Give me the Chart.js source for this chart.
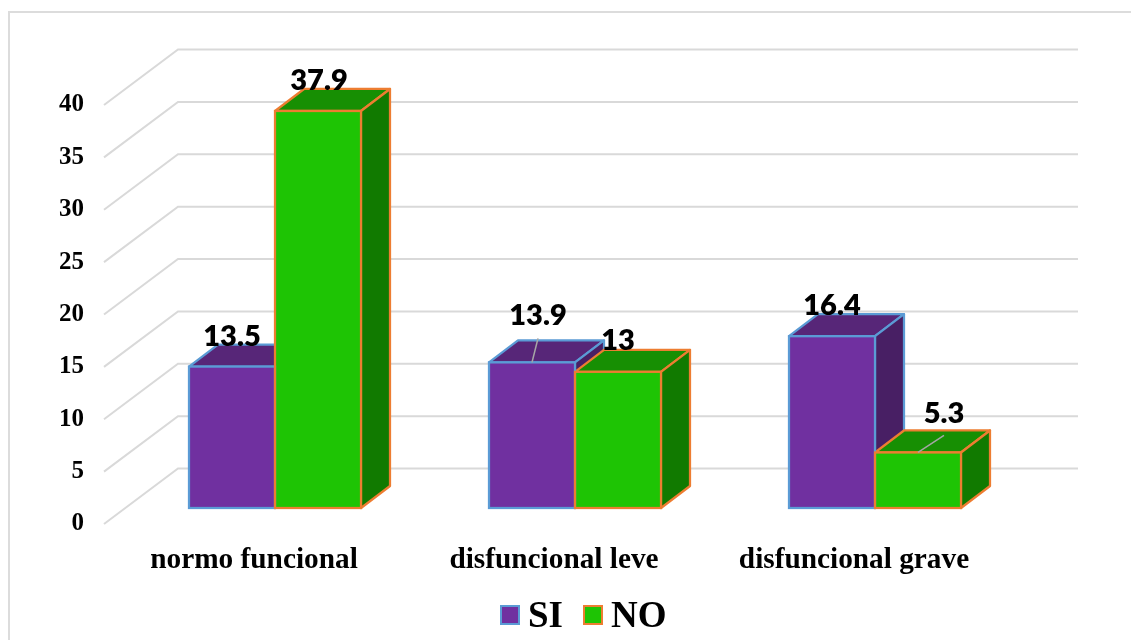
<!DOCTYPE html>
<html>
<head>
<meta charset="utf-8">
<title>normo funcional / disfuncional</title>
<script src="https://cdn.jsdelivr.net/npm/chart.js@4/dist/chart.umd.min.js"></script>
<style>
  html, body { margin: 0; padding: 0; background: #fff; overflow: hidden; }
  #wrap { position: relative; width: 1131px; height: 640px; }
  #frame { position: absolute; left: 8px; top: 11px; right: -4px; bottom: -4px; border: 2px solid #dcdcdc; }
  #healthChart { position: absolute; left: 0; top: 0; }
  #legend { position: absolute; left: 500px; top: 594px; display: flex; align-items: center;
            font: bold 37px "Liberation Serif", serif; color: #000; line-height: 42px; }
  #legend .swatch { width: 16px; height: 16px; border: 2px solid; margin-right: 8px; }
  #legend .item { display: flex; align-items: center; margin-right: 20px; }
</style>
</head>
<body>
<div id="wrap">
  <div id="frame"></div>
  <canvas id="healthChart" width="1131" height="640"></canvas>
  <div id="legend"></div>
</div>
<script>
const categories = ['normo funcional', 'disfuncional leve', 'disfuncional grave'];
const siValues = [13.5, 13.9, 16.4];
const noValues = [37.9, 13, 5.3];

// 3D look: how far the bar depth and the back wall sit from the bar plane
const barDepth = { x: 29, y: -22 };
const wallShift = { x: 53, y: -39.5 };
const floorShift = { x: -21, y: 16 };
const wallRight = 1078;

// face colours per series
const faces = [
    { top: '#572678', side: '#481F64' },
    { top: '#178F03', side: '#117A00' }
];

// hand placed value labels, some of them pulled away with a leader line
const labelPlacement = [
    [{ dx: 0, dy: -30 }, { dx: 6, dy: -47, leader: [6, -24] }, { dx: 0, dy: -31 }],
    [{ dx: 1, dy: -30 }, { dx: 0, dy: -31 }, { dx: 26, dy: -39, leader: [26, -17] }]
];

const wallPlugin = {
    id: 'wall',
    beforeDatasetsDraw(chart) {
        const { ctx, scales } = chart;
        ctx.save();
        ctx.strokeStyle = '#d9d9d9';
        ctx.lineWidth = 2;
        scales.y.ticks.forEach(tick => {
            const y = scales.y.getPixelForValue(tick.value);
            const backX = scales.x.left + wallShift.x;
            const backY = y + wallShift.y;
            ctx.beginPath();
            ctx.moveTo(backX - wallShift.x + floorShift.x, y + floorShift.y);
            ctx.lineTo(backX, backY);
            ctx.lineTo(wallRight, backY);
            ctx.stroke();
        });
        ctx.restore();
    }
};

function drawFace(ctx, points, fill, stroke) {
    ctx.beginPath();
    points.forEach((p, i) => i ? ctx.lineTo(p[0], p[1]) : ctx.moveTo(p[0], p[1]));
    ctx.closePath();
    ctx.fillStyle = fill;
    ctx.fill();
    ctx.strokeStyle = stroke;
    ctx.lineWidth = 2.25;
    ctx.stroke();
}

// top and side faces go behind the front faces drawn by the bar elements
const depthPlugin = {
    id: 'depth',
    beforeDatasetsDraw(chart) {
        const { ctx } = chart;
        ctx.save();
        ctx.lineJoin = 'round';
        chart.data.datasets.forEach((dataset, d) => {
            chart.getDatasetMeta(d).data.forEach(bar => {
                const l = bar.x - bar.width / 2;
                const r = bar.x + bar.width / 2;
                const t = bar.y;
                const b = bar.base;
                drawFace(ctx, [[l, t], [l + barDepth.x, t + barDepth.y], [r + barDepth.x, t + barDepth.y], [r, t]],
                    faces[d].top, dataset.borderColor);
                drawFace(ctx, [[r, t], [r + barDepth.x, t + barDepth.y], [r + barDepth.x, b + barDepth.y], [r, b]],
                    faces[d].side, dataset.borderColor);
            });
        });
        ctx.restore();
    },
    afterDatasetsDraw(chart) {
        const { ctx } = chart;
        ctx.save();
        ctx.lineWidth = 2.25;
        // outlines go on after the fills so NO sits over SI on the shared edge
        chart.data.datasets.forEach((dataset, d) => {
            ctx.strokeStyle = dataset.borderColor;
            chart.getDatasetMeta(d).data.forEach(bar => {
                ctx.strokeRect(bar.x - bar.width / 2, bar.y, bar.width, bar.base - bar.y);
            });
        });
        ctx.restore();
    }
};

const valueLabelPlugin = {
    id: 'valueLabels',
    afterDraw(chart) {
        const { ctx } = chart;
        ctx.save();
        ctx.font = '800 29px Lato, sans-serif';
        ctx.textAlign = 'center';
        ctx.textBaseline = 'middle';
        chart.data.datasets.forEach((dataset, d) => {
            chart.getDatasetMeta(d).data.forEach((bar, i) => {
                const place = labelPlacement[d][i];
                if (place.leader) {
                    ctx.strokeStyle = '#a6a6a6';
                    ctx.lineWidth = 1.5;
                    ctx.beginPath();
                    ctx.moveTo(bar.x, bar.y);
                    ctx.lineTo(bar.x + place.leader[0], bar.y + place.leader[1]);
                    ctx.stroke();
                }
                ctx.fillStyle = '#000';
                ctx.fillText(String(dataset.data[i]), bar.x + place.dx, bar.y + place.dy);
            });
        });
        ctx.restore();
    }
};

const chart = new Chart(document.getElementById('healthChart').getContext('2d'), {
    type: 'bar',
    data: {
        labels: categories,
        datasets: [
            { label: 'SI', data: siValues, backgroundColor: '#7030A0', borderColor: '#5B9BD5', borderWidth: 0 },
            { label: 'NO', data: noValues, backgroundColor: '#1EC404', borderColor: '#ED7D31', borderWidth: 0 }
        ]
    },
    options: {
        responsive: false,
        animation: false,
        layout: { padding: { left: 0, right: 106, top: 89, bottom: 0 } },
        datasets: { bar: { barPercentage: 1, categoryPercentage: 172 / 300 } },
        plugins: { legend: { display: false }, tooltip: { enabled: false } },
        scales: {
            x: {
                grid: { display: false },
                border: { display: false },
                afterFit: scale => { scale.height = 132; },
                ticks: {
                    color: '#000',
                    padding: 27,
                    labelOffset: -21,
                    maxRotation: 0,
                    autoSkip: false,
                    font: { family: '"Liberation Serif", serif', size: 29.3, weight: 'bold' }
                }
            },
            y: {
                min: 0,
                max: 40,
                grid: { display: false, drawTicks: false },
                border: { display: false },
                afterFit: scale => { scale.width = 125; },
                ticks: {
                    stepSize: 5,
                    color: '#000',
                    padding: 41,
                    labelOffset: 16,
                    font: { family: '"Liberation Serif", serif', size: 25, weight: 'bold' }
                }
            }
        }
    },
    plugins: [wallPlugin, depthPlugin, valueLabelPlugin]
});

// legend is plain markup so the swatch and text spacing can be tight
const legendBox = document.getElementById('legend');
chart.data.datasets.forEach(dataset => {
    const item = document.createElement('div');
    item.className = 'item';
    item.innerHTML = `<span class="swatch" style="background:${dataset.backgroundColor};border-color:${dataset.borderColor}"></span>${dataset.label}`;
    legendBox.appendChild(item);
});
</script>
</body>
</html>
